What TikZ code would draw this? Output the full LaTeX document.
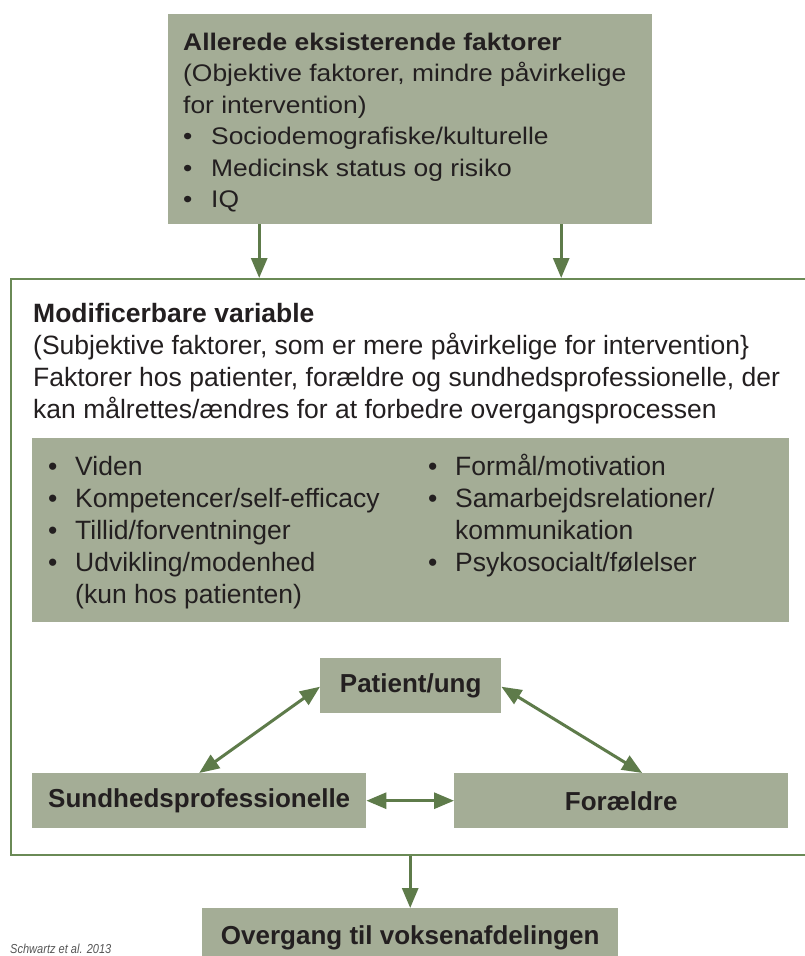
\documentclass[tikz,border=0pt]{standalone}
\usepackage{fontspec}
\setmainfont{Liberation Sans}
\newfontfamily\widefont{Liberation Sans}[FakeStretch=1.1]
\newfontfamily\narrowfont{Liberation Sans}[FakeStretch=0.85]
\usetikzlibrary{arrows.meta}

\definecolor{boxfill}{HTML}{A4AD96}
\definecolor{linkgreen}{HTML}{5E7B4A}
\definecolor{framegreen}{HTML}{6A8A56}
\definecolor{inktext}{HTML}{231F20}
\definecolor{citegray}{HTML}{555555}

\newcommand{\topbullet}{\makebox[28pt][l]{•}}
\newcommand{\listbullet}{\makebox[27pt][l]{•}}

\begin{document}
\begin{tikzpicture}[x=1pt,y=-1pt,
  every node/.style={text=inktext},
  box/.style={fill=boxfill, draw=none, inner sep=0pt, anchor=north west},
  label/.style={box, font=\fontsize{26}{30}\selectfont\bfseries},
  topline/.style={anchor=base west, inner sep=0pt, font=\widefont\fontsize{24}{28}\selectfont},
  midline/.style={anchor=base west, inner sep=0pt, font=\fontsize{26.5}{30}\selectfont},
  link/.style={draw=linkgreen, line width=3pt,
    -{Triangle[length=20pt,width=16pt]}},
  twoway/.style={draw=linkgreen, line width=3pt,
    {Triangle[length=20pt,width=16pt]}-{Triangle[length=20pt,width=16pt]}}
]
\useasboundingbox (0,0) rectangle (804,956);

% upper box: factors that already exist
\node[box, minimum width=484pt, minimum height=210pt] (top) at (168,14) {};
\node[topline] (t1) at (183,50)    {\bfseries Allerede eksisterende faktorer};
\node[topline] (t2) at (183,81.5)  {(Objektive faktorer, mindre påvirkelige};
\node[topline] (t3) at (183,113)   {for intervention)};
\node[topline] (t4) at (183,144.5) {\topbullet Sociodemografiske/kulturelle};
\node[topline] (t5) at (183,176)   {\topbullet Medicinsk status og risiko};
\node[topline] (t6) at (183,207.5) {\topbullet IQ};

% frame around the modifiable variables (runs off to the right)
\node[draw=framegreen, line width=1.6pt, inner sep=0pt, anchor=north west,
      minimum width=804pt, minimum height=576pt] (frame) at (10,278) {};

\node[midline] (m1) at (33,322) {\bfseries Modificerbare variable};
\node[midline] (m2) at (33,354) {(Subjektive faktorer, som er mere påvirkelige for intervention\}};
\node[midline] (m3) at (33,386) {Faktorer hos patienter, forældre og sundhedsprofessionelle, der};
\node[midline] (m4) at (33,418) {kan målrettes/ændres for at forbedre overgangsprocessen};

% list of variables
\node[box, minimum width=757pt, minimum height=184pt] (mods) at (32,438) {};
\node[midline] (l1) at (48,475) {\listbullet Viden};
\node[midline] (l2) at (48,507) {\listbullet Kompetencer/self-efficacy};
\node[midline] (l3) at (48,539) {\listbullet Tillid/forventninger};
\node[midline] (l4) at (48,571) {\listbullet Udvikling/modenhed};
\node[midline] (l5) at (75,603) {(kun hos patienten)};
\node[midline] (r1) at (428,475) {\listbullet Formål/motivation};
\node[midline] (r2) at (428,507) {\listbullet Samarbejdsrelationer/};
\node[midline] (r3) at (455,539) {kommunikation};
\node[midline] (r4) at (428,571) {\listbullet Psykosocialt/følelser};

% the three actors
\node[label, minimum width=181pt, minimum height=55pt] (pat)   at (320,658) {Patient/ung};
\node[label, minimum width=334pt, minimum height=55pt] (sund)  at (32,773)  {Sundhedsprofessionelle};
\node[label, minimum width=334pt, minimum height=55pt] (forae) at (454,773) {Forældre};

% outcome
\node[label, minimum width=416pt, minimum height=66pt, text depth=8pt] (final) at (202,908)
  {\raisebox{4pt}{Overgang til voksenafdelingen}};

% source
\node[anchor=base west, inner sep=0pt, text=citegray,
      font=\narrowfont\fontsize{13}{15}\selectfont\itshape] (cite) at (10,953) {Schwartz et al. 2013};

% connectors
\draw[link] ([xshift=-151pt]top.south) -- ([xshift=-151pt]top.south |- frame.north);
\draw[link] ([xshift=151pt]top.south) -- ([xshift=151pt]top.south |- frame.north);
\draw[twoway] ([yshift=-1pt]pat.west) -- (sund.north);
\draw[twoway] ([yshift=-1pt]pat.east) -- ([xshift=21pt]forae.north);
\draw[twoway] (sund.east) -- (forae.west);
\draw[link] (frame.south -| final.north) -- (final.north);
\end{tikzpicture}
\end{document}
